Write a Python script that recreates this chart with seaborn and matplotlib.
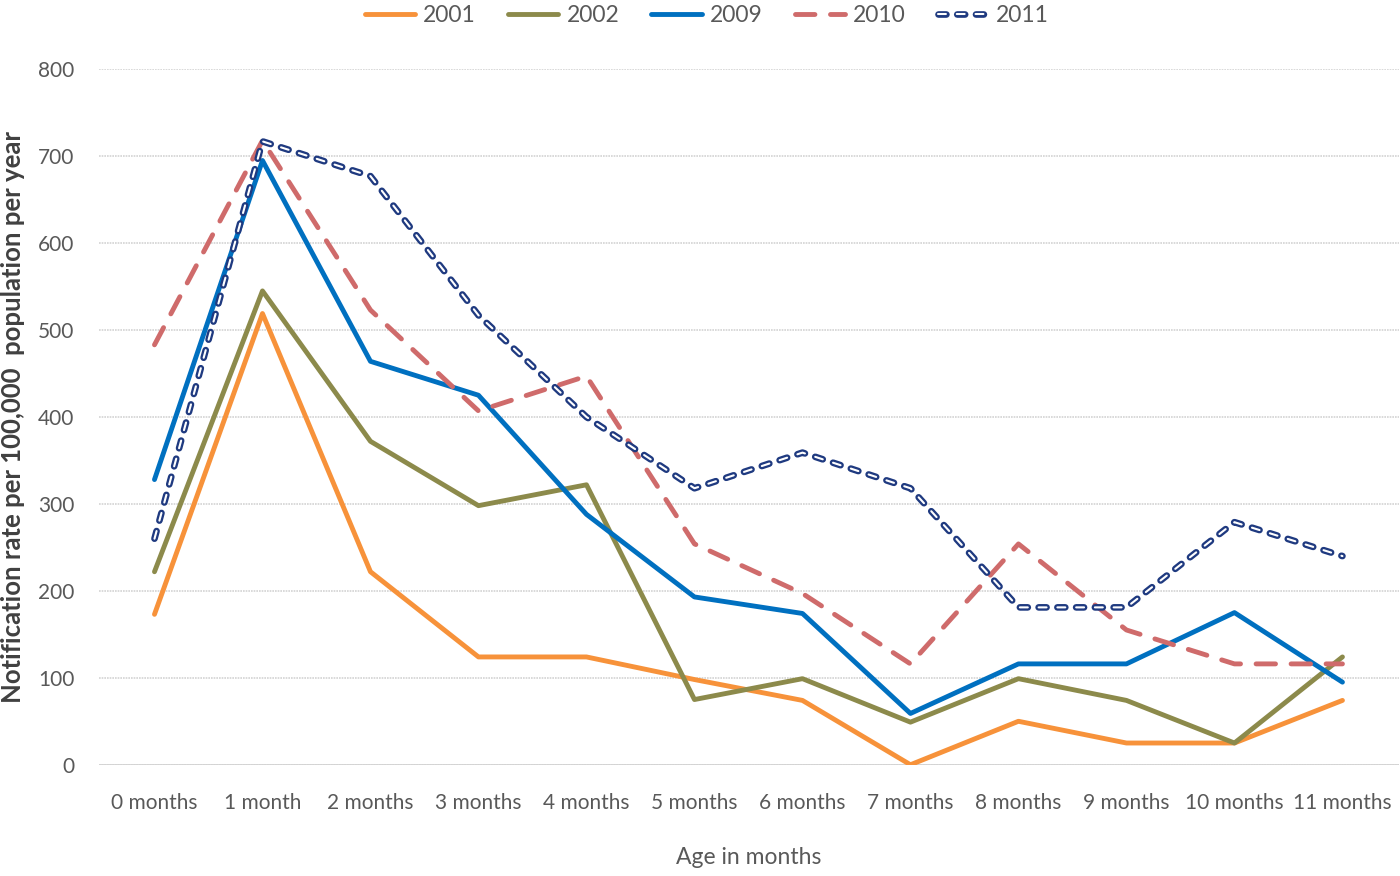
import numpy as np, pandas as pd
import matplotlib; matplotlib.use('Agg')
import matplotlib.pyplot as plt
import matplotlib.patheffects as pe
import seaborn as sns

# ─── Data ───
months = ['0 months', '1 month', '2 months', '3 months', '4 months', '5 months',
          '6 months', '7 months', '8 months', '9 months', '10 months', '11 months']
y2001 = [173, 519, 222, 124, 124, 98, 74, 0, 50, 25, 25, 74]
y2002 = [222, 545, 372, 298, 322, 75, 99, 49, 99, 74, 25, 124]
y2009 = [328, 695, 464, 425, 288, 193, 174, 59, 116, 116, 175, 95]
y2010 = [483, 718, 523, 407, 447, 254, 197, 116, 254, 155, 116, 116]
y2011 = [260, 717, 677, 517, 400, 318, 359, 318, 181, 181, 279, 240]
yticks = [0, 100, 200, 300, 400, 500, 600, 700, 800]

series = {'2001': y2001, '2002': y2002, '2009': y2009, '2010': y2010, '2011': y2011}
df = pd.DataFrame({'month': months * len(series),
                   'x': list(range(len(months))) * len(series),
                   'year': np.repeat(list(series), len(months)),
                   'rate': sum(series.values(), [])})

sns.set_style('white')
plt.rcParams['font.family'] = ['Lato', 'DejaVu Sans']

fig = plt.figure(figsize=(14, 8.76), dpi=100)
ax = fig.add_axes([0.071, 0.127, 0.928, 0.794])

colors = {'2001': '#F7923A', '2002': '#8C8A4B', '2009': '#0070C0',
          '2010': '#CF6B6B', '2011': '#1F3A80'}

for yr in ['2001', '2002', '2009', '2010']:
    d = df[df.year == yr]
    kw = dict(lw=3.5, solid_capstyle='round')
    if yr == '2010':
        kw = dict(lw=3.5, dashes=(4, 3.2), dash_capstyle='round')
    sns.lineplot(data=d, x='x', y='rate', ax=ax, color=colors[yr], label=yr,
                 legend=False, **kw)

# 2011: compound line (navy outline, white core)
d = df[df.year == '2011']
ln, = ax.plot(d.x, d.rate, color='white', lw=1.5, dashes=(3.8, 5.2),
              dash_capstyle='round', label='2011')
ln.set_path_effects([pe.Stroke(linewidth=4.8, foreground=colors['2011']), pe.Normal()])

ax.set_xlim(-0.51, 11.52)
ax.set_ylim(0, 800)
ax.set_yticks(yticks)
ax.set_xticks(range(len(months)))
ax.set_xticklabels(months)
ax.tick_params(axis='both', labelsize=15, labelcolor='#595959', length=0)
ax.tick_params(axis='x', pad=20)
ax.tick_params(axis='y', pad=18)
ax.grid(axis='y', color='#D3D3D3', lw=1.2, ls=(0, (1, 0.6)))
for s in ax.spines.values():
    s.set_visible(False)
ax.axhline(0, color='#D0D0D0', lw=1.2, zorder=0)

ax.set_xlabel('Age in months', fontsize=16.5, color='#595959')
ax.xaxis.set_label_coords(0.5, -0.118)
ax.set_ylabel('Notification rate per 100,000  population per year', fontsize=18.5,
              color='#404040', fontweight='bold')
ax.yaxis.set_label_coords(-0.057, 0.5)

handles, labels = ax.get_legend_handles_labels()
leg = fig.legend(handles, labels, loc='upper center', bbox_to_anchor=(0.505, 1.018),
                 ncol=5, frameon=False, fontsize=16.5, handlelength=2.2,
                 columnspacing=1.4, handletextpad=0.35)
for t in leg.get_texts():
    t.set_color('#595959')

fig.savefig('out.png', dpi=100)
